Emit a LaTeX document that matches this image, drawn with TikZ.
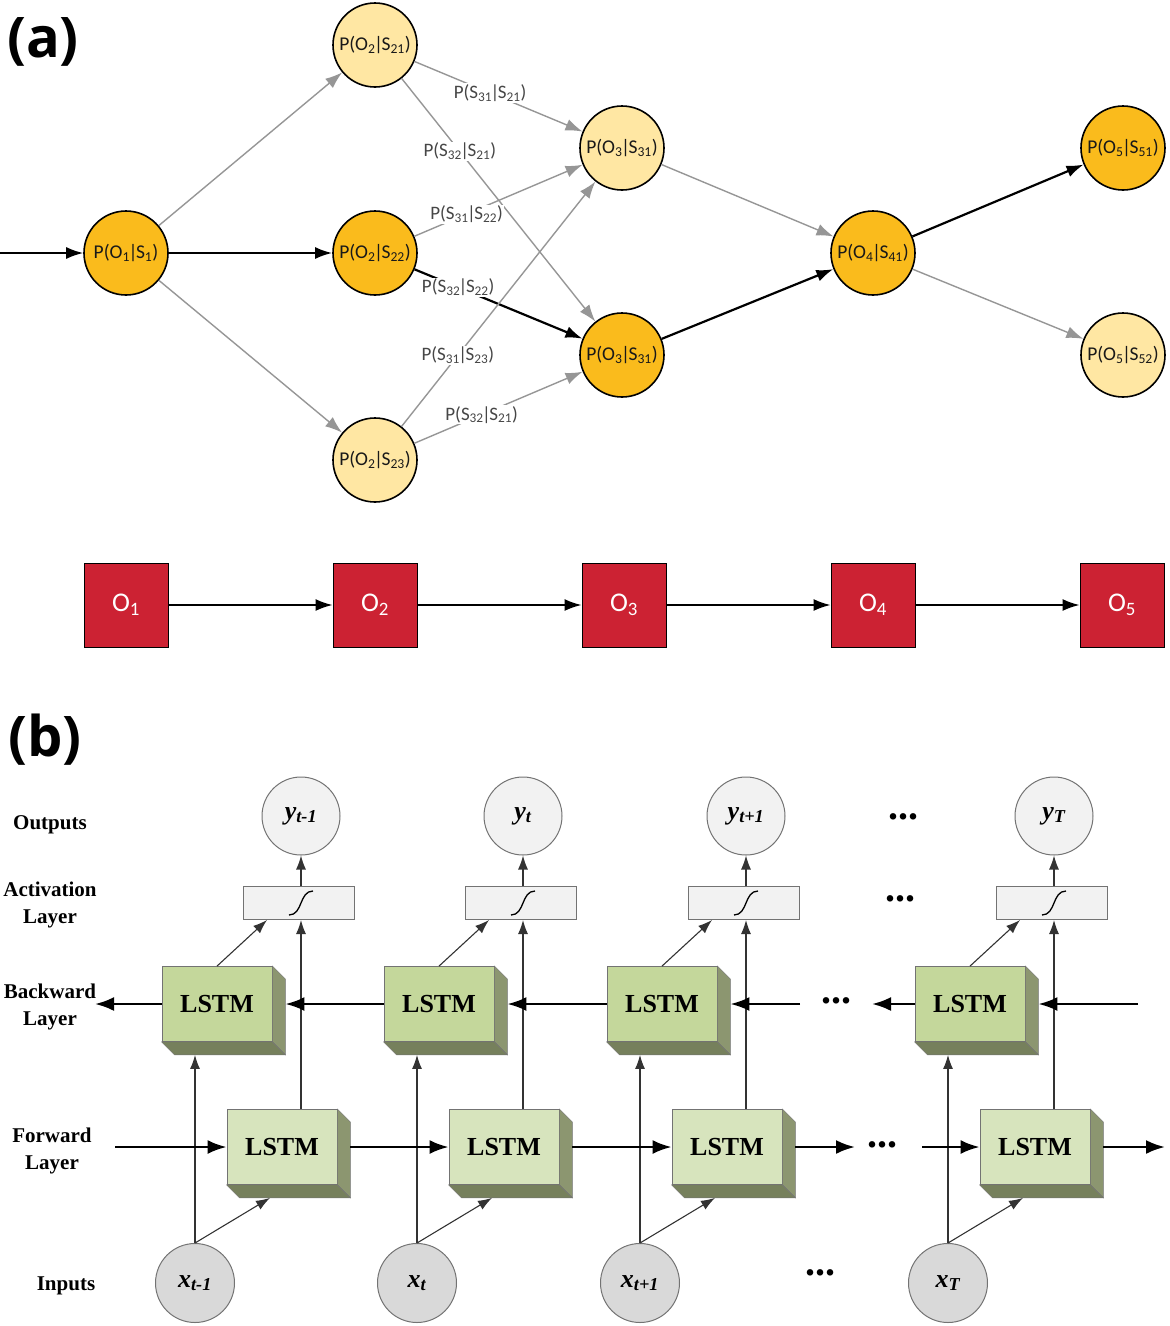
\documentclass[tikz,border=0pt]{standalone}
\usepackage{fontspec}
\setmainfont{Liberation Serif}
\newfontfamily\calfont{Carlito}
\newfontfamily\headfont{Open Sans}
\usetikzlibrary{arrows.meta,positioning,calc}
\definecolor{StateDark}{RGB}{250,187,28}
\definecolor{StateLight}{RGB}{255,231,163}
\definecolor{ObsRed}{RGB}{204,34,51}
\definecolor{EdgeGray}{RGB}{150,150,150}
\definecolor{LabelGray}{RGB}{70,70,70}
\definecolor{BackGreen}{RGB}{196,215,155}
\definecolor{FwdGreen}{RGB}{215,228,189}
\definecolor{SideGreen}{RGB}{140,150,112}
\definecolor{BaseGreen}{RGB}{118,128,92}
\definecolor{PaleGray}{RGB}{242,242,242}
\definecolor{InGray}{RGB}{217,217,217}
\definecolor{RimGray}{RGB}{115,115,115}
\newcommand{\cprob}[4]{P(#1\textsubscript{#2}\kern-1.5pt|\kern-1.5pt#3\textsubscript{#4})}
\newcommand{\boxdepth}[1]{%
  \filldraw[draw=RimGray, fill=SideGreen] (#1.north east) -- ($(#1.north east)+(13,13)$) -- ($(#1.south east)+(13,13)$) -- (#1.south east) -- cycle;
  \filldraw[draw=RimGray, fill=BaseGreen] (#1.south west) -- ($(#1.south west)+(13,13)$) -- ($(#1.south east)+(13,13)$) -- (#1.south east) -- cycle;
  \coordinate (#1-side) at ($(#1.east)+(13,0)$);
  \coordinate (#1-bot) at ($(#1.south)+(0,13)$);
}

\begin{document}
\begin{tikzpicture}[x=1pt,y=-1pt,
    hmmstate/.style={circle, draw=black, line width=1.6pt, minimum size=84pt, inner sep=0pt, text=black!90, font=\calfont\fontsize{19.5}{21}\selectfont},
    hot/.style={hmmstate, fill=StateDark},
    cold/.style={hmmstate, fill=StateLight},
    weak/.style={-{Latex[length=17pt,width=12pt]}, draw=EdgeGray, line width=1.4pt},
    strong/.style={-{Latex[length=17pt,width=12pt]}, draw=black, line width=2.2pt},
    elabel/.style={fill=white, inner sep=1pt, text=LabelGray, font=\calfont\fontsize{19}{20}\selectfont},
    obs/.style={rectangle, draw=black, line width=1pt, fill=ObsRed, minimum size=84pt, inner sep=0pt, text=white, font=\calfont\fontsize{27}{30}\selectfont},
    headlbl/.style={font=\headfont\bfseries\fontsize{56}{60}\selectfont},
    rowlabel/.style={align=center, font=\bfseries\fontsize{21}{27}\selectfont},
    outc/.style={circle, draw=RimGray, line width=1pt, fill=PaleGray, minimum size=78pt, inner sep=0pt, font=\bfseries\itshape\fontsize{26}{28}\selectfont},
    inc/.style={outc, fill=InGray, minimum size=79pt},
    actbox/.style={rectangle, draw=RimGray, line width=1pt, fill=PaleGray, minimum width=111pt, minimum height=33pt},
    lstm/.style={rectangle, draw=RimGray, line width=0.8pt, minimum width=110pt, minimum height=75pt, inner sep=0pt, font=\bfseries\fontsize{26}{30}\selectfont},
    bwd/.style={lstm, fill=BackGreen},
    fwd/.style={lstm, fill=FwdGreen},
    flow/.style={-{Latex[length=19pt,width=14pt]}, line width=2.6pt},
    link/.style={-{Latex[length=14pt,width=10pt]}, line width=1.1pt, draw=black!80},
    ellip/.style={font=\bfseries\fontsize{40}{40}\selectfont, inner sep=0pt}
  ]
  \useasboundingbox (0,0) rectangle (1170,1326);

  % (a) state lattice
  \node[headlbl] (lbla) at (43,42) {(a)};
  \node[hot] (s1) at (126,253) {\cprob{O}{1}{S}{1}};
  \node[cold] (s21) at (375,45) {\cprob{O}{2}{S}{21}};
  \node[hot] (s22) at (375,253) {\cprob{O}{2}{S}{22}};
  \node[cold] (s23) at (375,460) {\cprob{O}{2}{S}{23}};
  \node[cold] (t1) at (622,148) {\cprob{O}{3}{S}{31}};
  \node[hot] (t2) at (622,355) {\cprob{O}{3}{S}{31}};
  \node[hot] (u4) at (873,253) {\cprob{O}{4}{S}{41}};
  \node[hot] (v1) at (1123,148) {\cprob{O}{5}{S}{51}};
  \node[cold] (v2) at (1123,355) {\cprob{O}{5}{S}{52}};
  \coordinate (start) at (0,253);

  \draw[strong, line width=1.8pt] (start) -- (s1);
  \draw[weak] (s1) -- (s21);
  \draw[strong] (s1) -- (s22);
  \draw[weak] (s1) -- (s23);
  \draw[weak] (s21) -- node[elabel, pos=0.45] {\cprob{S}{31}{S}{21}} (t1);
  \draw[weak] (s21) -- node[elabel, pos=0.30] {\cprob{S}{32}{S}{21}} (t2);
  \draw[weak] (s22) -- node[elabel, pos=0.31] {\cprob{S}{31}{S}{22}} (t1);
  \draw[strong] (s22) -- node[elabel, pos=0.26] {\cprob{S}{32}{S}{22}} (t2);
  \draw[weak] (s23) -- node[elabel, pos=0.29] {\cprob{S}{31}{S}{23}} (t1);
  \draw[weak] (s23) -- node[elabel, pos=0.40] {\cprob{S}{32}{S}{21}} (t2);
  \draw[weak] (t1) -- (u4);
  \draw[strong] (t2) -- (u4);
  \draw[strong] (u4) -- (v1);
  \draw[weak] (u4) -- (v2);

  % observations
  \foreach \i/\x in {1/126,2/375,3/624,4/873,5/1122}
    \node[obs] (o\i) at (\x,605) {O\textsubscript{\i}};
  \foreach \i/\j in {1/2,2/3,3/4,4/5}
    \draw[-{Latex[length=17pt,width=12pt]}, line width=1.6pt] (o\i) -- (o\j);

  % (b) bidirectional LSTM
  \node[headlbl] (lblb) at (45,740) {(b)};
  \node[rowlabel] (lout) at (50,825) {Outputs};
  \node[rowlabel] (lact) at (50,905) {Activation\\Layer};
  \node[rowlabel] (lbwd) at (50,1007) {Backward\\Layer};
  \node[rowlabel] (lfwd) at (52,1151) {Forward\\Layer};
  \node[rowlabel] (lin) at (66,1286) {Inputs};

  \foreach \c/\xi/\sub in {1/195/t-1, 2/417/t, 3/640/t+1, 4/948/T}{
    \node[outc] (y\c) at (\xi+106,816) {y\textsubscript{\sub}};
    \node[actbox] (a\c) at (\xi+104,903) {};
    \node[bwd] (b\c) at (\xi+22,1004) {LSTM};
    \node[fwd] (f\c) at (\xi+87,1147) {LSTM};
    \node[inc] (x\c) at (\xi,1283) {x\textsubscript{\sub}};
    \boxdepth{b\c}
    \boxdepth{f\c}
    \draw[line width=1.3pt] ($(a\c.center)+(-10,12)$) .. controls ($(a\c.center)+(4,12)$) and ($(a\c.center)+(0,-12)$) .. ($(a\c.center)+(14,-12)$);
    \draw[link] (x\c.north) -- (x\c |- b\c-bot);
    \draw[link] (x\c.north) -- ([xshift=-12pt]f\c-bot);
    \draw[link] (f\c.north -| y\c) -- (a\c.south -| y\c);
    \draw[link] (b\c.north) -- ([xshift=-32pt]a\c.south);
    \draw[link] (a\c.north -| y\c) -- (y\c.south);
  }

  \node[ellip] (ydots) at (903,817) {...};
  \node[ellip] (adots) at (900,899) {...};
  \node[ellip] (bdots) at (836,1001) {...};
  \node[ellip] (fdots) at (882,1145) {...};
  \node[ellip] (xdots) at (820,1273) {...};

  % backward chain
  \coordinate (bin) at (1138,1004);
  \coordinate (bstop) at (872,1004);
  \coordinate (bgap) at (800,1004);
  \coordinate (bout) at (95,1004);
  \draw[flow] (bin) -- (b4-side);
  \draw[flow] (b4) -- (bstop);
  \draw[flow] (bgap) -- (b3-side);
  \draw[flow] (b3) -- (b2-side);
  \draw[flow] (b2) -- (b1-side);
  \draw[flow] (b1) -- (bout);

  % forward chain
  \coordinate (fin) at (115,1147);
  \coordinate (fstop) at (855,1147);
  \coordinate (fgap) at (922,1147);
  \coordinate (fout) at (1165,1147);
  \draw[flow] (fin) -- (f1);
  \draw[flow] (f1-side) -- (f2);
  \draw[flow] (f2-side) -- (f3);
  \draw[flow] (f3-side) -- (fstop);
  \draw[flow] (fgap) -- (f4);
  \draw[flow] (f4-side) -- (fout);
\end{tikzpicture}
\end{document}
